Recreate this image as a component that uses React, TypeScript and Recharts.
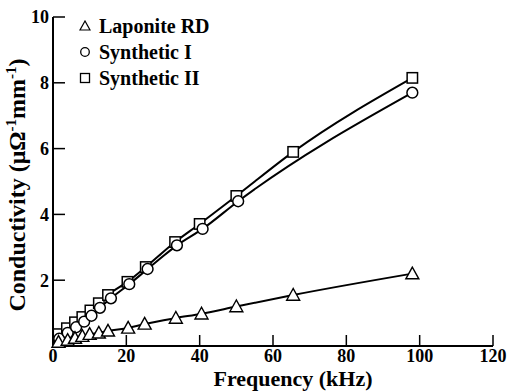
import { LineChart, Line, XAxis, YAxis } from "recharts";

const LAP_X = [1.5, 4, 6, 8, 10, 12.5, 15, 20.5, 25, 33.5, 40.5, 50, 65.5, 98];
const LAP_Y = [0.12, 0.18, 0.24, 0.3, 0.36, 0.4, 0.46, 0.55, 0.67, 0.85, 0.98, 1.2, 1.55, 2.2];
const SYN1_X = [1.7, 4, 6.3, 8.5, 10.5, 12.8, 15.8, 20.8, 25.8, 33.8, 40.8, 50.5, 98];
const SYN1_Y = [0.22, 0.4, 0.57, 0.74, 0.92, 1.16, 1.45, 1.88, 2.34, 3.06, 3.56, 4.4, 7.7];
const SYN2_X = [1.5, 3.8, 6, 8, 10.2, 12.5, 15, 20.3, 25.3, 33.3, 40, 50, 65.5, 98];
const SYN2_Y = [0.36, 0.54, 0.72, 0.88, 1.08, 1.3, 1.55, 1.95, 2.4, 3.16, 3.71, 4.56, 5.9, 8.15];

const X_TICKS = [0, 20, 40, 60, 80, 100, 120];
const Y_TICKS = [2, 4, 6, 8, 10];
const NAMES = ["Laponite RD", "Synthetic I", "Synthetic II"];

const toRows = (xs: number[], ys: number[]) => xs.map((x, i) => ({ x, y: ys[i] }));

const FONT = "'Liberation Serif', 'Times New Roman', 'DejaVu Serif', serif";
const TICK = { fill: "#000", fontFamily: FONT, fontWeight: "bold", fontSize: 18 };

function Tri({ cx, cy }: any) {
  if (cx == null || cy == null) return null;
  const r = 6.5;
  return (
    <polygon
      points={`${cx},${cy - r} ${cx - r},${cy + r * 0.8} ${cx + r},${cy + r * 0.8}`}
      fill="#fff" stroke="#000" strokeWidth={1.4} />
  );
}
function Circ({ cx, cy }: any) {
  if (cx == null || cy == null) return null;
  return <circle cx={cx} cy={cy} r={5.4} fill="#fff" stroke="#000" strokeWidth={1.5} />;
}
function Sq({ cx, cy }: any) {
  if (cx == null || cy == null) return null;
  return <rect x={cx - 5.2} y={cy - 5.2} width={10.4} height={10.4} fill="#fff" stroke="#000" strokeWidth={1.5} />;
}

function LegendBox() {
  const marks = [
    <polygon key="t" points="6,1 1,10 11,10" fill="#fff" stroke="#000" strokeWidth={1.2} />,
    <circle key="c" cx={6} cy={6} r={4.3} fill="#fff" stroke="#000" strokeWidth={1.3} />,
    <rect key="s" x={1.5} y={1.5} width={9} height={9} fill="#fff" stroke="#000" strokeWidth={1.3} />,
  ];
  return (
    <div style={{ position: "absolute", left: 79, top: 13, fontFamily: FONT, fontWeight: "bold",
      fontSize: 20, lineHeight: "26px" }}>
      {NAMES.map((n, i) => (
        <div key={n} style={{ display: "flex", alignItems: "center" }}>
          <svg width={12} height={12} style={{ marginRight: 8 }}>{marks[i]}</svg>
          <span>{n}</span>
        </div>
      ))}
    </div>
  );
}

function YLabel() {
  return (
    <text x={25} y={185} transform="rotate(-90 25 185)" textAnchor="middle"
      fontFamily={FONT} fontWeight="bold" fontSize={24} fill="#000">
      Conductivity (μΩ<tspan fontSize={15} dy={-9}>-1</tspan>
      <tspan dy={9}>mm</tspan><tspan fontSize={15} dy={-9}>-1</tspan><tspan dy={9}>)</tspan>
    </text>
  );
}

function XLabel() {
  return (
    <text x={293} y={386} textAnchor="middle" fontFamily={FONT} fontWeight="bold" fontSize={22} fill="#000">
      Frequency (kHz)
    </text>
  );
}

export default function App() {
  return (
    <div style={{ position: "absolute", left: 0, top: 0, width: 512, height: 392, background: "#fff" }}>
      <LineChart width={512} height={392} margin={{ top: 17, right: 19, left: 0, bottom: 16 }}>
        <XAxis type="number" dataKey="x" domain={[0, 120]} ticks={X_TICKS} height={30}
          axisLine={{ stroke: "#000", strokeWidth: 2 }} tickLine={{ stroke: "#000", strokeWidth: 1.5 }}
          tickSize={-11} tickMargin={14} tick={TICK} label={<XLabel />} />
        <YAxis type="number" dataKey="y" domain={[0, 10]} ticks={Y_TICKS} width={53}
          axisLine={{ stroke: "#000", strokeWidth: 2 }} tickLine={{ stroke: "#000", strokeWidth: 1.5 }}
          tickSize={-12} tickMargin={16} tick={TICK} label={<YLabel />} />
        <Line data={toRows(SYN2_X, SYN2_Y)} dataKey="y" type="monotone" stroke="#000" strokeWidth={2}
          dot={<Sq />} activeDot={false} isAnimationActive={false} name={NAMES[2]} />
        <Line data={toRows(SYN1_X, SYN1_Y)} dataKey="y" type="monotone" stroke="#000" strokeWidth={2}
          dot={<Circ />} activeDot={false} isAnimationActive={false} name={NAMES[1]} />
        <Line data={toRows(LAP_X, LAP_Y)} dataKey="y" type="monotone" stroke="#000" strokeWidth={2}
          dot={<Tri />} activeDot={false} isAnimationActive={false} name={NAMES[0]} />
      </LineChart>
      <LegendBox />
    </div>
  );
}
